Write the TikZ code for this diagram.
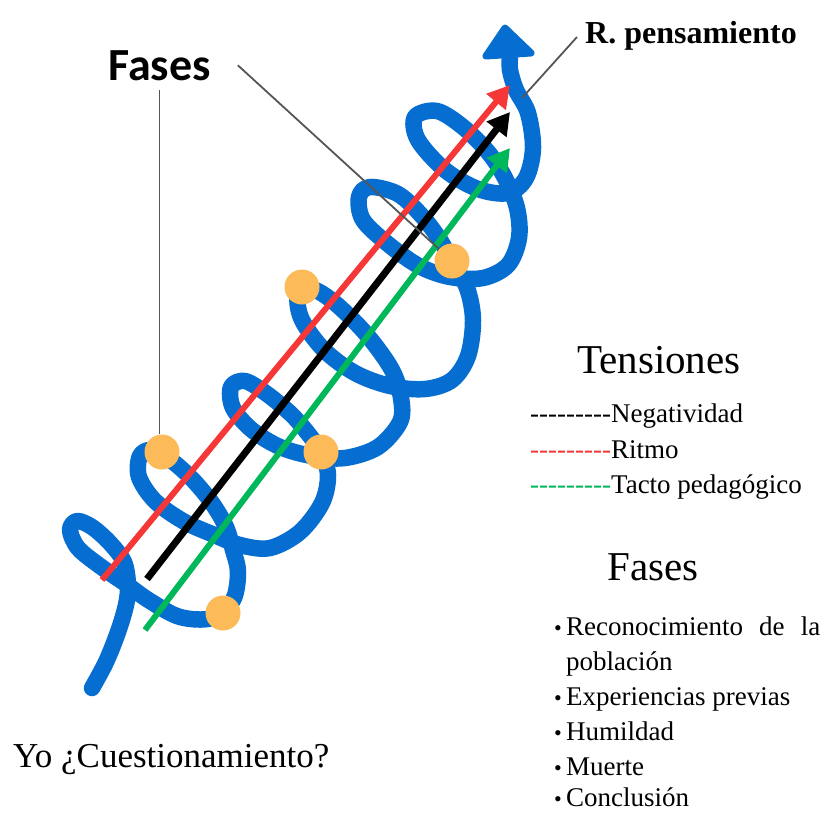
\documentclass[tikz,border=0pt]{standalone}
\usepackage{fontspec}
\setmainfont{Liberation Serif}
\newfontfamily\carlito{Carlito}
\usetikzlibrary{arrows.meta}
\definecolor{coilblue}{RGB}{6,110,208}
\definecolor{tenred}{RGB}{245,55,55}
\definecolor{tengreen}{RGB}{0,184,90}
\definecolor{dotorange}{RGB}{252,187,88}
\definecolor{leadgray}{RGB}{85,85,85}
\newcommand\fsz[1]{\fontsize{#1}{#1}\selectfont}
\newcommand\hyphrun{\mbox{-}\mbox{-}\mbox{-}\mbox{-}\mbox{-}\mbox{-}\mbox{-}\mbox{-}\mbox{-}}
\tikzset{
  coil/.style={draw=coilblue, line width=16.5pt, line cap=round, line join=round},
  tarrow/.style={line width=#1, -{Triangle[length=22pt,width=24pt]}},
  phasedot/.style={circle, fill=dotorange, minimum size=35pt, inner sep=0pt},
  leader/.style={draw=leadgray, line width=1.8pt},
  lbl/.style={anchor=base west, inner sep=0pt},
}

\begin{document}
\begin{tikzpicture}[x=1pt,y=-1pt]
	%%%%% START %%%%%
	\useasboundingbox (0,0) rectangle (826,812);
	
	% the coil
	\draw[coil] plot[smooth, tension=0.55] coordinates {
		(92,688) (106,662) (118,632) (126,605) (128,585) (124,562) (110,543) (92,527)
		(77,521) (70,530) (78,548) (100,566) (126,584) (150,601) (180,617) (212,618)
		(233,600) (238,572) (233,550) (226,527) (212,503) (193,480) (172,461) (152,450)
		(140,456) (139,477) (155,501) (183,521) (212,534) (240,545) (270,548) (300,532)
		(322,503) (328,475) (321,452) (310,436) (292,415) (267,394) (245,381) (231,387)
		(233,408) (252,430) (280,447) (312,456) (345,458) (378,447) (400,422) (401,398)
		(392,370) (367,335) (335,303) (312,289) (298,296) (302,320) (324,350) (355,373)
		(390,386) (425,389) (452,380) (468,356) (473,320) (467,288) (452,262) (440,240)
		(422,216) (398,194) (370,187) (359,197) (363,220) (388,244) (419,266) (450,277)
		(483,278) (508,265) (519,238) (517,208) (505,178) (488,152) (463,127) (437,111)
		(415,117) (418,140) (445,170) (478,189) (508,193) (526,178) (533,148) (528,113)
		(516,90) (510,70) (510,56)};
	\filldraw[coilblue, line width=7pt, line join=round] (505,28) -- (486,56) -- (531,53) -- cycle;
	\coordinate (rptag) at (522,98);
	
	% tensions
	\coordinate (r0) at (102,580);
	\coordinate (r1) at (510,85);
	\coordinate (k0) at (147,579);
	\coordinate (k1) at (510,112);
	\coordinate (g0) at (145,630);
	\coordinate (g1) at (510,148);
	\draw[tarrow=6pt, tenred] (r0) -- (r1);
	\draw[tarrow=7pt, black] (k0) -- (k1);
	\draw[tarrow=6pt, tengreen] (g0) -- (g1);
	
	% phases
	\node[phasedot] (d1) at (162,452) {};
	\node[phasedot] (d2) at (223,613) {};
	\node[phasedot] (d3) at (321,452) {};
	\node[phasedot] (d4) at (302,287) {};
	\node[phasedot] (d5) at (452,261) {};
	
	% labels
	\node[lbl, font=\carlito\bfseries\fsz{46}] (fasesA) at (108,80) {Fases};
	\node[lbl, font=\bfseries\fsz{32}] (rpens) at (585,43) {R. pensamiento};
	\node[lbl, font=\fsz{35}] (yo) at (13,767) {Yo ¿Cuestionamiento?};
	
	\coordinate (fl) at ([xshift=27pt]fasesA.east);
	\draw[leader] (fasesA.south) ++(0,9) -- (fasesA.south |- d1.north);
	\draw[leader] (fl) -- (d5);
	\draw[leader] ([xshift=-8pt,yshift=6pt]rpens.base west) -- (rptag);
	
	% legend
	\node[lbl, font=\fsz{41}] (tens) at (577,373) {Tensiones};
	\node[lbl, font=\fsz{27}] (neg) at (530,422) {\hyphrun Negatividad};
	\node[lbl, font=\fsz{27}] (rit) at (530,458) {\textcolor{tenred}{\hyphrun}Ritmo};
	\node[lbl, font=\fsz{27}] (tac) at (530,493) {\textcolor{tengreen}{\hyphrun}Tacto pedagógico};
	
	\node[lbl, font=\fsz{41}] (fasesB) at (607,580) {Fases};
	\node[lbl, font=\fsz{27}] (it1) at (566,635) {\makebox[254pt][s]{Reconocimiento de la}};
	\node[lbl, font=\fsz{27}] (it1b) at (566,670) {población};
	\node[lbl, font=\fsz{27}] (it2) at (566,705) {Experiencias previas};
	\node[lbl, font=\fsz{27}] (it3) at (566,740) {Humildad};
	\node[lbl, font=\fsz{27}] (it4) at (566,775) {Muerte};
	\node[lbl, font=\fsz{27}] (it5) at (566,806) {Conclusión};
	\foreach \n in {it1,it2,it3,it4,it5}
		\node[anchor=base east, inner sep=0pt, font=\fsz{22}] at ([xshift=-4pt]\n.base west) {\textbullet};
	
	%%%%% END %%%%%
\end{tikzpicture}
\end{document}
